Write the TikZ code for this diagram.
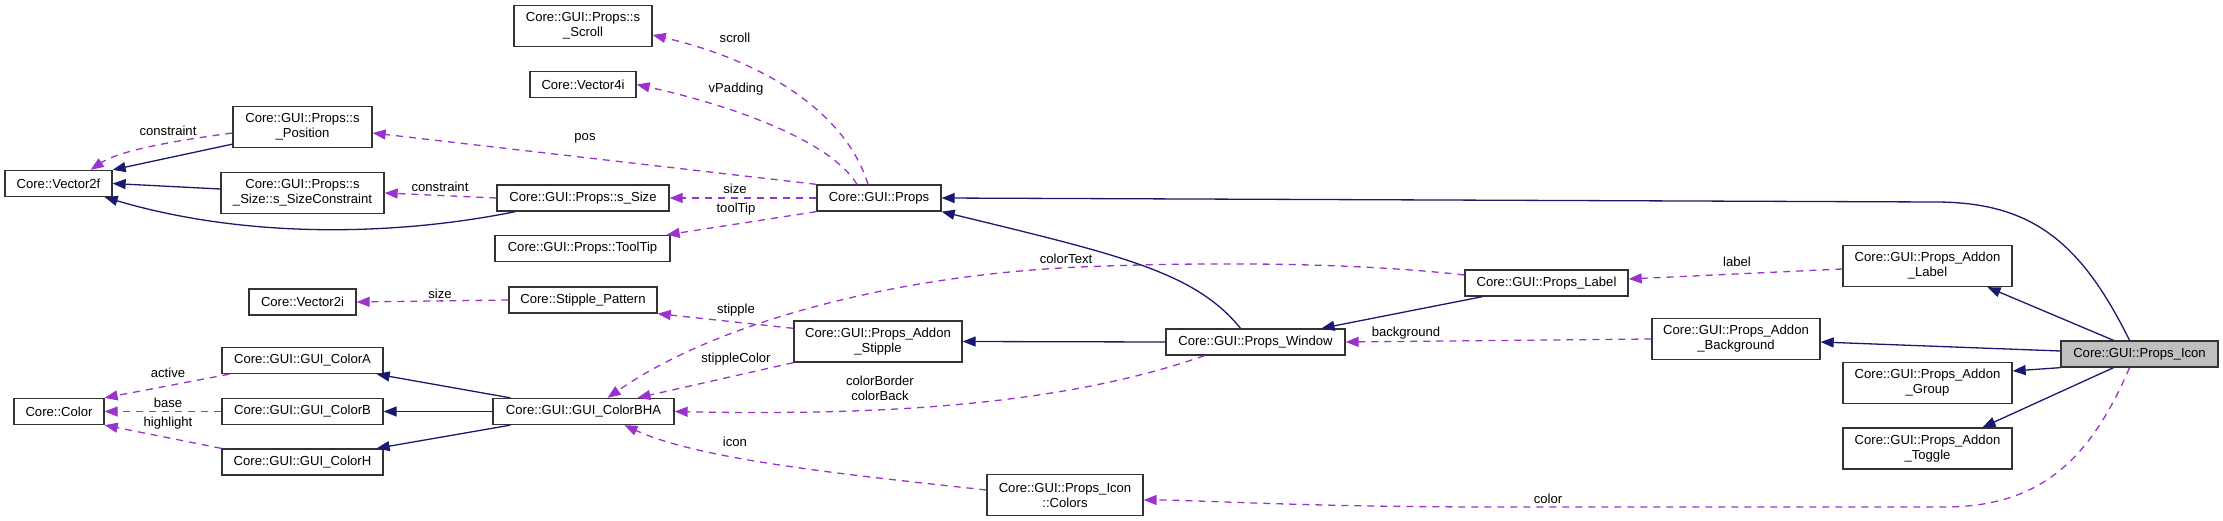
\documentclass[tikz,border=0pt]{standalone}
\usepackage{fontspec}
\setmainfont{Liberation Sans}
\usetikzlibrary{arrows.meta,calc,positioning}

\definecolor{navyedge}{RGB}{25,25,112}
\definecolor{purpleedge}{RGB}{154,50,205}

\begin{document}
\begin{tikzpicture}[x=1pt,y=-1pt,
every node/.style={font=\fontsize{13.1}{15}\selectfont},
cls/.style={draw=black!80,line width=1.3pt,fill=white,inner xsep=4pt,inner ysep=3pt,minimum height=26pt,align=center},
cls2/.style={cls,minimum height=41pt},
inh/.style={draw=navyedge,line width=1.3pt,-{Triangle[length=13pt,width=10pt]}},
rel/.style={draw=purpleedge,line width=1.3pt,dash pattern=on 7pt off 6pt,-{Triangle[length=13pt,width=10pt]}},
lbl/.style={inner sep=0pt}]
\useasboundingbox (0,0) rectangle (2223,521);
\node[cls2,minimum width=138pt] (Scroll) at (583,26) {Core::GUI::Props::s\\\_Scroll};
\node[cls,minimum width=106pt] (Vec4i) at (583,84.5) {Core::Vector4i};
\node[cls2,minimum width=139pt] (Pos) at (302.5,127) {Core::GUI::Props::s\\\_Position};
\node[cls,minimum width=107pt] (Vec2f) at (58.5,183.5) {Core::Vector2f};
\node[cls2,minimum width=163pt] (SizeC) at (302.5,193) {Core::GUI::Props::s\\\_Size::s\_SizeConstraint};
\node[cls,minimum width=172pt] (Size) at (583,198) {Core::GUI::Props::s\_Size};
\node[cls,minimum width=175pt] (ToolTip) at (582.5,248.5) {Core::GUI::Props::ToolTip};
\node[cls,minimum width=124pt] (Props) at (879,198) {Core::GUI::Props};
\node[cls,minimum width=107pt] (Vec2i) at (302.5,302) {Core::Vector2i};
\node[cls,minimum width=148pt] (Stipple) at (583,300) {Core::Stipple\_Pattern};
\node[cls,minimum width=161pt] (ColorA) at (302.5,360.5) {Core::GUI::GUI\_ColorA};
\node[cls,minimum width=90pt] (Color) at (59,411.5) {Core::Color};
\node[cls,minimum width=161pt] (ColorB) at (302.5,411.5) {Core::GUI::GUI\_ColorB};
\node[cls,minimum width=161pt] (ColorH) at (302.5,462) {Core::GUI::GUI\_ColorH};
\node[cls,minimum width=181pt] (BHA) at (583.5,411.5) {Core::GUI::GUI\_ColorBHA};
\node[cls2,minimum width=168pt] (AddonStipple) at (878,341.5) {Core::GUI::Props\_Addon\\\_Stipple};
\node[cls,minimum width=179pt] (Window) at (1255.5,342) {Core::GUI::Props\_Window};
\node[cls,minimum width=163pt] (Label) at (1546.5,283) {Core::GUI::Props\_Label};
\node[cls2,minimum width=169pt] (AddonLabel) at (1927.5,266) {Core::GUI::Props\_Addon\\\_Label};
\node[cls2,minimum width=168pt] (AddonBg) at (1736,339) {Core::GUI::Props\_Addon\\\_Background};
\node[cls,minimum width=157pt,fill=black!25] (Icon) at (2139.5,354) {Core::GUI::Props\_Icon};
\node[cls2,minimum width=169pt] (AddonGroup) at (1927.5,383) {Core::GUI::Props\_Addon\\\_Group};
\node[cls2,minimum width=169pt] (AddonToggle) at (1927.5,448.5) {Core::GUI::Props\_Addon\\\_Toggle};
\node[cls2,minimum width=156pt] (IconColors) at (1065,495) {Core::GUI::Props\_Icon\\::Colors};
\node[lbl] (lConstr1) at (168,131) {constraint};
\node[lbl] (lConstr2) at (440,187) {constraint};
\node[lbl] (lScroll) at (735,38) {scroll};
\node[lbl] (lPad) at (736,89) {vPadding};
\node[lbl] (lPos) at (585,138) {pos};
\node[lbl] (lSize1) at (735,189) {size};
\node[lbl] (lTip) at (736,209) {toolTip};
\node[lbl] (lSize2) at (440,294) {size};
\node[lbl] (lStip) at (736,310) {stipple};
\node[lbl] (lStipCol) at (736,359) {stippleColor};
\node[lbl] (lColText) at (1066,259) {colorText};
\node[lbl,align=center] (lColBorder) at (880,388) {colorBorder\\colorBack};
\node[lbl] (lIcon) at (735,442) {icon};
\node[lbl] (lActive) at (168,373) {active};
\node[lbl] (lBase) at (168,403) {base};
\node[lbl] (lHigh) at (168,423) {highlight};
\node[lbl] (lLabel) at (1737,262) {label};
\node[lbl] (lBack) at (1406,333) {background};
\node[lbl] (lColor) at (1548,499) {color};
\draw[inh] ([yshift=4pt]Pos.south west) -- (Vec2f.north east);
\draw[rel] ([yshift=-6pt]Pos.west) .. controls (180,140) and (120,150) .. ([xshift=-22pt]Vec2f.north east);
\draw[inh] ([yshift=4pt]SizeC.west) -- (Vec2f.east);
\draw[inh] ([xshift=19pt]Size.south west) .. controls (400,235) and (250,240) .. ([xshift=-8pt]Vec2f.south east);
\draw[rel] (Size.west) -- (SizeC.east);
\draw[rel] ([xshift=-11pt]Props.north) .. controls (845,110) and (760,60) .. ([yshift=-9pt]Scroll.east);
\draw[rel] ([xshift=-22pt]Props.north) .. controls (830,140) and (730,105) .. (Vec4i.east);
\draw[rel] (Props.north west) -- ([yshift=-6pt]Pos.east);
\draw[rel] (Props.west) -- (Size.east);
\draw[rel] (Props.south west) -- ([xshift=-4pt]ToolTip.north east);
\draw[rel] (Stipple.west) -- (Vec2i.east);
\draw[rel] ([yshift=-8pt]AddonStipple.north west) -- (Stipple.south east);
\draw[rel] (AddonStipple.south west) -- ([xshift=54pt]BHA.north);
\draw[rel] ([yshift=8pt]Label.west) .. controls (1350,262) and (1200,262) .. (1080,267) .. controls (900,275) and (720,320) .. ([xshift=24pt]BHA.north);
\draw[rel] ([xshift=-51pt]Window.south) .. controls (1050,410) and (850,415) .. (BHA.east);
\draw[rel] ([yshift=5pt]IconColors.west) .. controls (850,475) and (700,460) .. ([xshift=41pt]BHA.south);
\draw[inh] ([xshift=-15pt]Window.north) .. controls (1195,272) and (1120,255) .. (Props.south east);
\draw[inh] (Window.west) -- (AddonStipple.east);
\draw[inh] ([xshift=-64pt]Label.south) -- ([xshift=66pt]Window.north);
\draw[rel] ([yshift=-3pt]AddonLabel.west) -- ([yshift=4pt]Label.east);
\draw[rel] (AddonBg.west) -- (Window.east);
\draw[inh] ([xshift=-26pt]Icon.north) -- ([xshift=60pt]AddonLabel.south);
\draw[inh] ([yshift=3pt]Icon.west) -- ([yshift=-3pt]AddonBg.east);
\draw[inh] (Icon.south west) -- ([yshift=12pt]AddonGroup.east);
\draw[inh] ([xshift=-26pt]Icon.south) -- ([xshift=55pt]AddonToggle.north);
\draw[inh] ([xshift=-10pt]Icon.north) .. controls (2080,240) and (2030,202) .. (1935,202) -- (Props.east);
\draw[rel] ([xshift=-10pt]Icon.south) .. controls (2090,460) and (2040,507) .. (1944,507) -- (1500,507) .. controls (1300,507) and (1200,500) .. ([yshift=-5pt]IconColors.east);
\draw[inh] ([xshift=18pt]BHA.north west) -- ([xshift=-7pt]ColorA.south east);
\draw[inh] (BHA.west) -- (ColorB.east);
\draw[inh] ([xshift=18pt]BHA.south west) -- ([xshift=-7pt]ColorH.north east);
\draw[rel] ([xshift=8pt]ColorA.south west) -- (Color.north east);
\draw[rel] (ColorB.west) -- (Color.east);
\draw[rel] (ColorH.north west) -- (Color.south east);
\end{tikzpicture}
\end{document}
